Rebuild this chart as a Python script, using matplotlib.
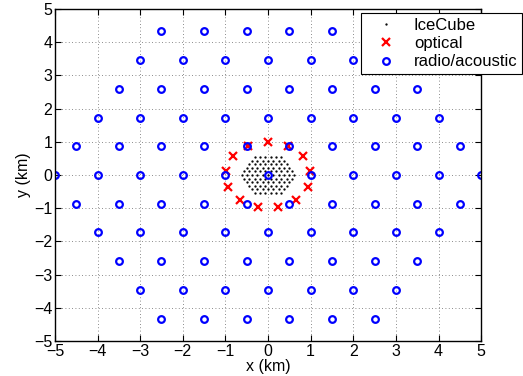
import matplotlib
matplotlib.use('Agg')
import matplotlib.pyplot as plt

plt.rcParams['font.family'] = ['Liberation Sans', 'DejaVu Sans']

# Radio/acoustic stations: one list of x positions per row (km)
row_y = [4.33, 3.46, 2.60, 1.73, 0.87, 0.0, -0.87, -1.73, -2.60, -3.46, -4.33]
row_x = [
    [-2.5, -1.5, -0.5, 0.5, 1.5, 2.5],
    [-3, -2, -1, 0, 1, 2, 3],
    [-3.5, -2.5, -1.5, -0.5, 0.5, 1.5, 2.5, 3.5],
    [-4, -3, -2, -1, 0, 1, 2, 3, 4],
    [-4.5, -3.5, -2.5, -1.5, -0.5, 0.5, 1.5, 2.5, 3.5, 4.5],
    [-5, -4, -3, -2, -1, 0, 1, 2, 3, 4, 5],
    [-4.5, -3.5, -2.5, -1.5, -0.5, 0.5, 1.5, 2.5, 3.5, 4.5],
    [-4, -3, -2, -1, 0, 1, 2, 3, 4],
    [-3.5, -2.5, -1.5, -0.5, 0.5, 1.5, 2.5, 3.5],
    [-3, -2, -1, 0, 1, 2, 3],
    [-2.5, -1.5, -0.5, 0.5, 1.5, 2.5],
]

# Optical strings on a ring of ~1 km
opt_x = [0.0, 0.46, -0.46, 0.82, -0.82, 0.99, -0.99, 0.93, -0.93, 0.65, -0.65, 0.24, -0.24]
opt_y = [1.0, 0.88, 0.88, 0.57, 0.57, 0.12, 0.12, -0.36, -0.36, -0.75, -0.75, -0.97, -0.97]

# IceCube strings (hexagonal, ~125 m spacing)
ice_row_y = [0.54, 0.43, 0.33, 0.22, 0.11, 0.0, -0.11, -0.22, -0.33, -0.43, -0.54]
ice_row_x = [
    [-0.31, -0.19, -0.06, 0.06, 0.19, 0.31],
    [-0.38, -0.25, -0.12, 0.0, 0.12, 0.25, 0.38],
    [-0.44, -0.31, -0.19, -0.06, 0.06, 0.19, 0.31, 0.44],
    [-0.5, -0.38, -0.25, -0.12, 0.0, 0.12, 0.25, 0.38, 0.5],
    [-0.56, -0.44, -0.31, -0.19, -0.06, 0.06, 0.19, 0.31, 0.44, 0.56],
    [-0.62, -0.5, -0.38, -0.25, -0.12, 0.0, 0.12, 0.25, 0.38, 0.5, 0.62],
    [-0.56, -0.44, -0.31, -0.19, -0.06, 0.06, 0.19, 0.31, 0.44, 0.56],
    [-0.5, -0.38, -0.25, -0.12, 0.0, 0.12, 0.25, 0.38, 0.5],
    [-0.44, -0.31, -0.19, -0.06, 0.06, 0.19, 0.31, 0.44],
    [-0.38, -0.25, -0.12, 0.0, 0.12, 0.25, 0.38],
    [-0.31, -0.19, -0.06, 0.06, 0.19, 0.31],
]

ticks = [-5, -4, -3, -2, -1, 0, 1, 2, 3, 4, 5]
tick_labels = ['\u22125', '\u22124', '\u22123', '\u22122', '\u22121',
               '0', '1', '2', '3', '4', '5']

radio_x = [x for xs in row_x for x in xs]
radio_y = [y for y, xs in zip(row_y, row_x) for _ in xs]
ice_x = [x for xs in ice_row_x for x in xs]
ice_y = [y for y, xs in zip(ice_row_y, ice_row_x) for _ in xs]

fig = plt.figure(figsize=(5.23, 3.76), dpi=100)
ax = fig.add_axes([0.105, 0.093, 0.815, 0.883])

ax.plot(ice_x, ice_y, '.', color='black', markersize=1.3, label='IceCube')
ax.plot(opt_x, opt_y, 'x', color='red', markersize=5.5, mew=1.6, label='optical')
ax.plot(radio_x, radio_y, 'o', color='blue', markerfacecolor='none',
        markersize=4.8, mew=1.6, label='radio/acoustic')

ax.set_xlim(-5, 5)
ax.set_ylim(-5, 5)
ax.set_xticks(ticks)
ax.set_yticks(ticks)
ax.set_xticklabels(tick_labels)
ax.set_yticklabels(tick_labels)
ax.grid(True, linestyle=(0, (1, 3)), color='#666666', linewidth=0.6)
ax.tick_params(direction='in', length=4, labelsize=11.5, pad=2,
               top=True, right=True)
for s in ax.spines.values():
    s.set_linewidth(1.0)

ax.set_xlabel('x (km)', fontsize=11.5, labelpad=0)
ax.set_ylabel('y (km)', fontsize=11.5, labelpad=2)

leg = fig.legend(loc='upper right', bbox_to_anchor=(0.999, 0.966),
                 bbox_transform=fig.transFigure, fontsize=12, frameon=True,
                 fancybox=False, borderpad=0.3, handlelength=2.4,
                 handletextpad=0.5, labelspacing=0.2, borderaxespad=0)
leg.get_frame().set_edgecolor('black')
leg.get_frame().set_linewidth(0.8)
leg.get_frame().set_alpha(1)

fig.savefig('out.png', dpi=100)
